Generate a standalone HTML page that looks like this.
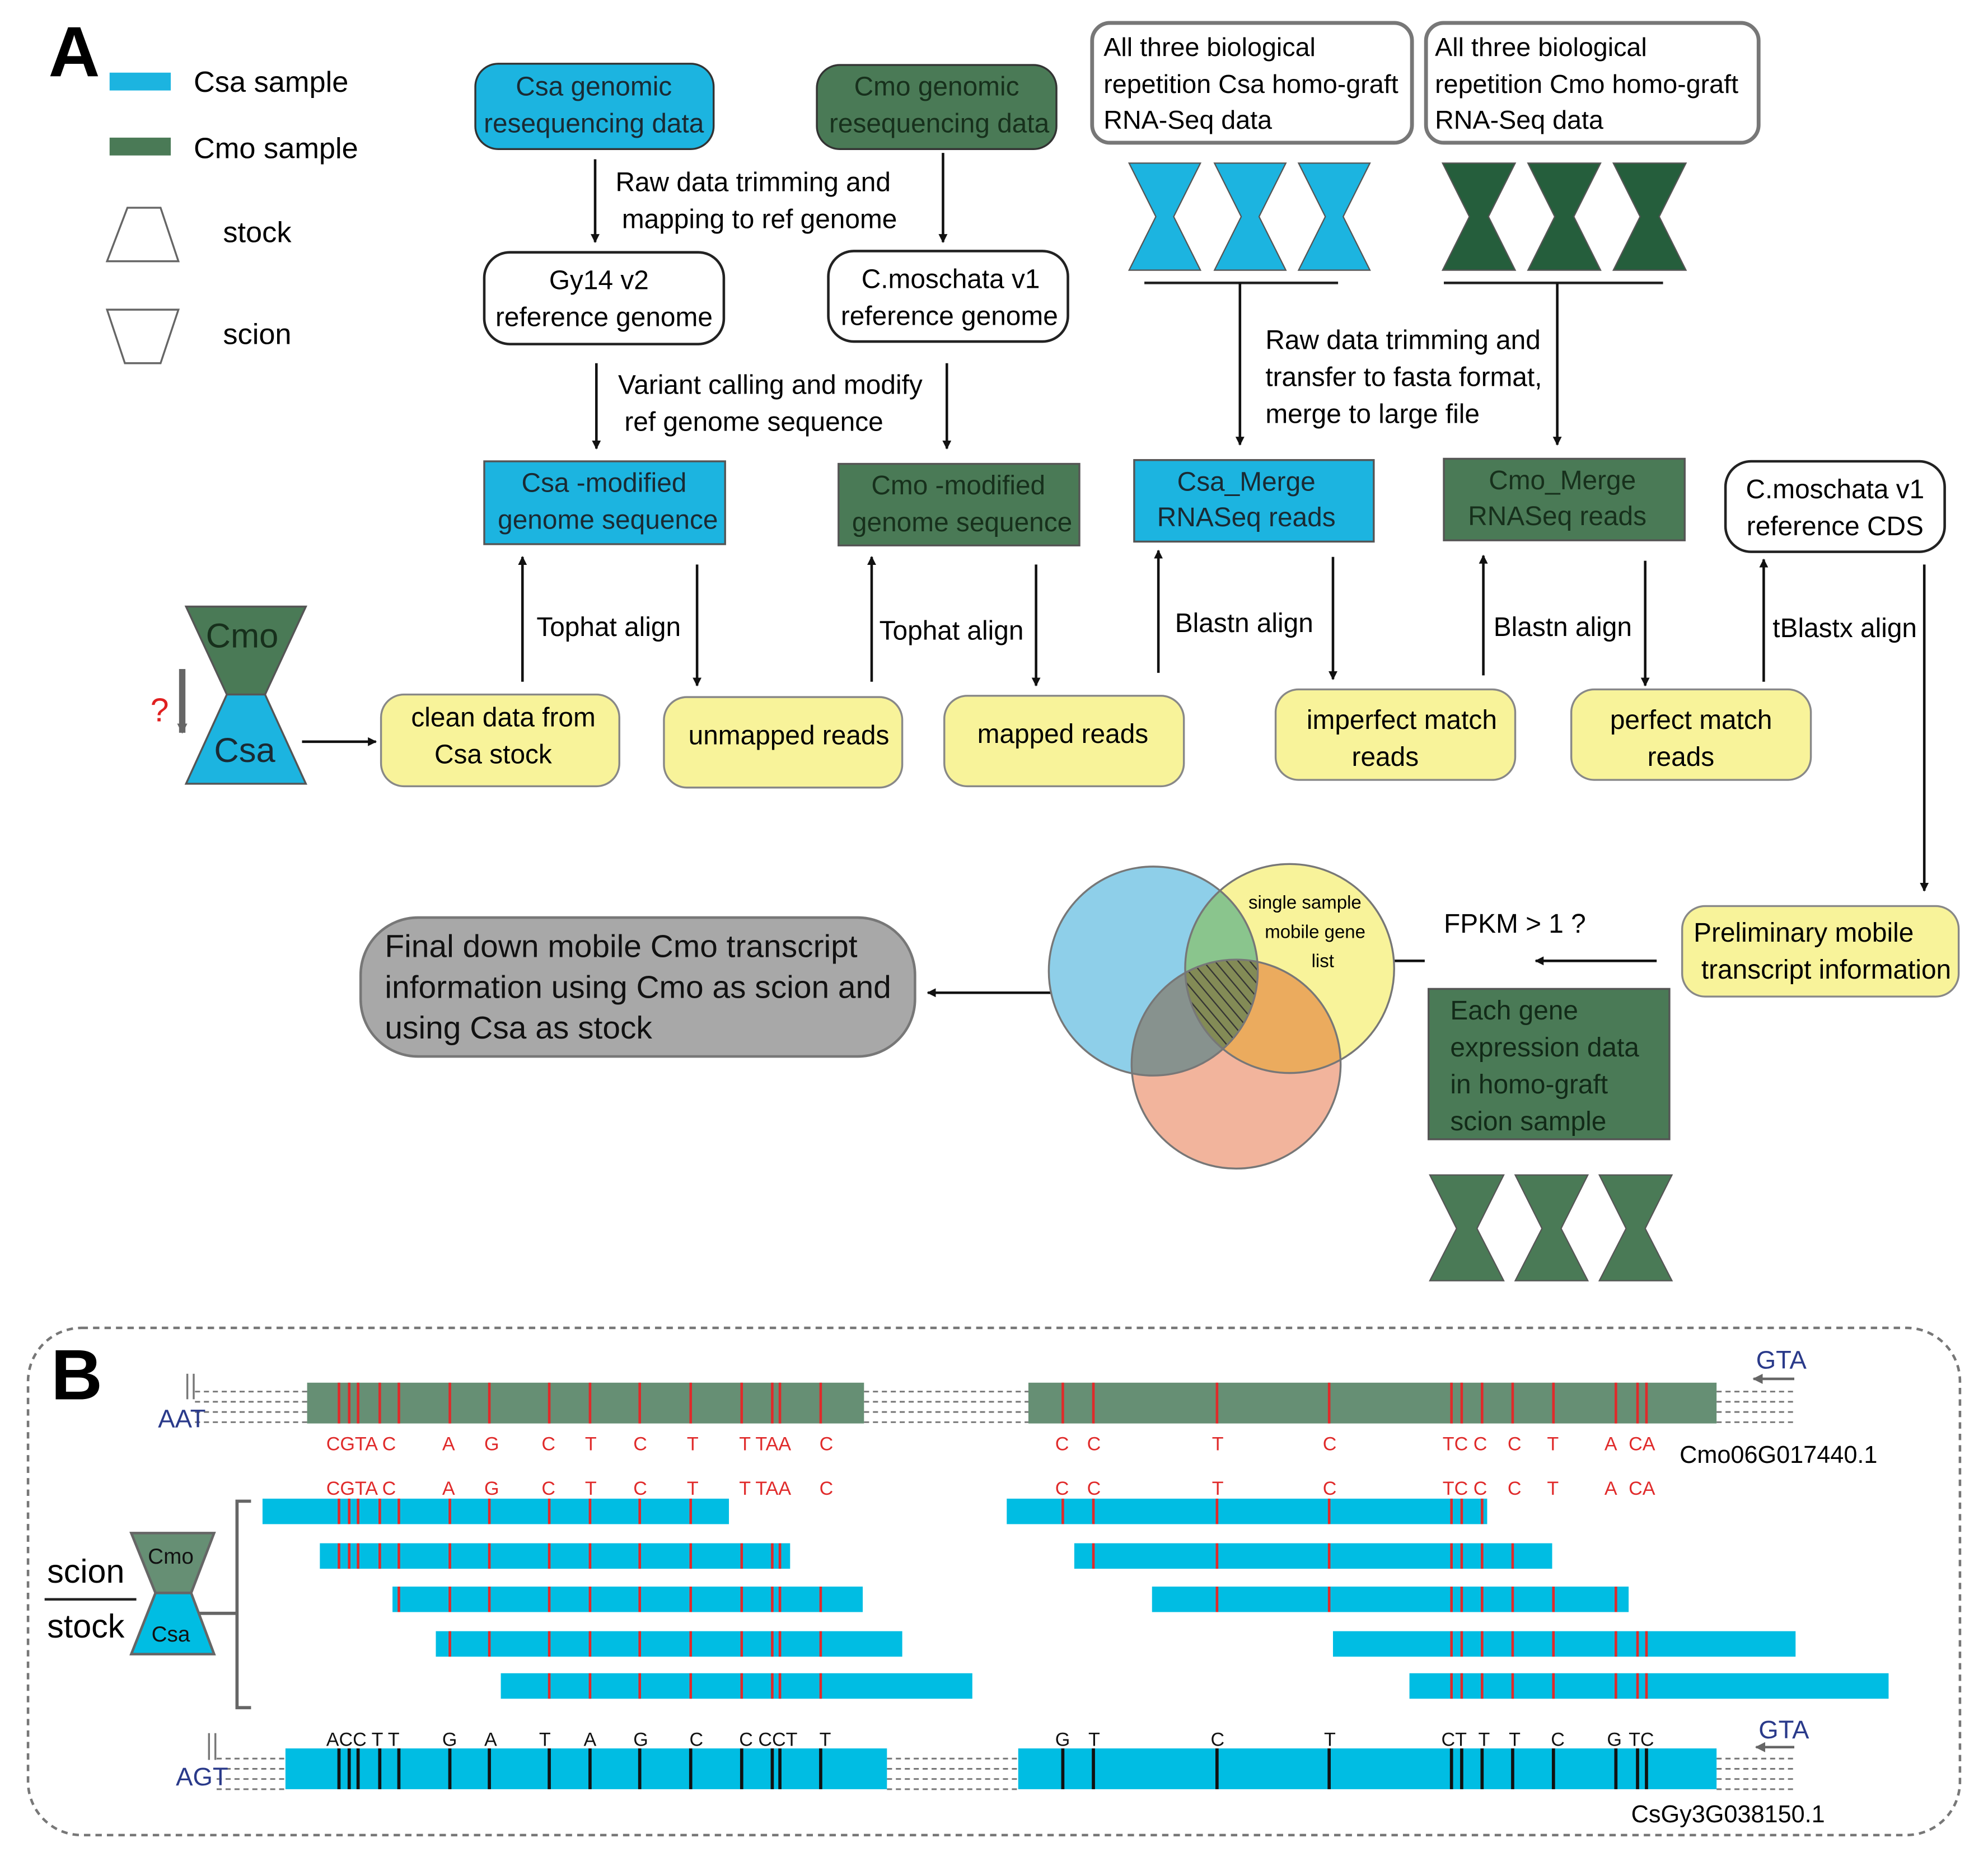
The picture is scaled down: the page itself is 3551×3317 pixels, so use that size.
<!DOCTYPE html>
<html><head><meta charset="utf-8"><style>
html,body{margin:0;padding:0;background:#fff;}
svg{display:block;}
text{font-family:"Liberation Sans",Arial,sans-serif;}
</style></head><body>
<svg width="3551" height="3317" viewBox="0 0 1560 1457.2" xmlns="http://www.w3.org/2000/svg">
<defs>
<marker id="ah" viewBox="0 0 10 10" refX="9" refY="5" markerWidth="7" markerHeight="7" orient="auto-start-reverse" markerUnits="userSpaceOnUse"><path d="M0,0 L10,5 L0,10 z" fill="#111"/></marker>
<marker id="ag" viewBox="0 0 10 10" refX="9" refY="5" markerWidth="8" markerHeight="8" orient="auto" markerUnits="userSpaceOnUse"><path d="M0,0 L10,5 L0,10 z" fill="#666"/></marker>
<pattern id="hatch" patternUnits="userSpaceOnUse" width="7" height="7" patternTransform="rotate(-40)"><rect width="7" height="7" fill="none"/><line x1="0" y1="0" x2="0" y2="7" stroke="#333" stroke-width="2"/></pattern>
<clipPath id="cb"><circle cx="905" cy="762" r="82"/></clipPath>
<clipPath id="cy"><circle cx="1012" cy="760" r="82"/></clipPath>
</defs>

<!-- A legend -->
<text x="38" y="60" font-size="56" font-weight="bold">A</text>
<rect x="86" y="57" width="48" height="14" fill="#1cb4e0"/>
<text x="152" y="72" font-size="23">Csa sample</text>
<rect x="86" y="108" width="48" height="14" fill="#4a7a56"/>
<text x="152" y="124" font-size="23">Cmo sample</text>
<polygon points="100,163 126,163 140,205 84,205" fill="none" stroke="#666" stroke-width="1.5"/>
<text x="175" y="190" font-size="23">stock</text>
<polygon points="84,243 140,243 126,285 98,285" fill="none" stroke="#666" stroke-width="1.5"/>
<text x="175" y="270" font-size="23">scion</text>

<g font-size="21" text-anchor="middle">
<rect x="373" y="50" width="187" height="67" rx="18" fill="#1cb4e0" stroke="#333" stroke-width="1.5"/>
<text x="466" y="75" fill="#1a2a33">Csa genomic</text><text x="466" y="104" fill="#1a2a33">resequencing data</text>
<rect x="641" y="51" width="188" height="66" rx="18" fill="#4a7a56" stroke="#333" stroke-width="1.5"/>
<text x="735" y="75" fill="#17301c">Cmo genomic</text><text x="737" y="104" fill="#17301c">resequencing data</text>

<rect x="380" y="198" width="188" height="72" rx="20" fill="#fff" stroke="#222" stroke-width="2"/>
<text x="470" y="227">Gy14 v2</text><text x="474" y="256">reference genome</text>
<rect x="650" y="197" width="188" height="71" rx="20" fill="#fff" stroke="#222" stroke-width="2"/>
<text x="746" y="226">C.moschata v1</text><text x="745" y="255">reference genome</text>

<rect x="380" y="362" width="189" height="65" fill="#1cb4e0" stroke="#555" stroke-width="1.5"/>
<text x="474" y="386" fill="#1a2a33">Csa -modified</text><text x="477" y="415" fill="#1a2a33">genome sequence</text>
<rect x="658" y="364" width="189" height="64" fill="#4a7a56" stroke="#555" stroke-width="1.5"/>
<text x="752" y="388" fill="#17301c">Cmo -modified</text><text x="755" y="417" fill="#17301c">genome sequence</text>

<rect x="890" y="361" width="188" height="64" fill="#1cb4e0" stroke="#555" stroke-width="1.5"/>
<text x="978" y="385" fill="#1a2a33">Csa_Merge</text><text x="978" y="413" fill="#1a2a33">RNASeq reads</text>
<rect x="1133" y="360" width="189" height="64" fill="#4a7a56" stroke="#555" stroke-width="1.5"/>
<text x="1226" y="384" fill="#17301c">Cmo_Merge</text><text x="1222" y="412" fill="#17301c">RNASeq reads</text>

<rect x="1354" y="362" width="172" height="71" rx="20" fill="#fff" stroke="#222" stroke-width="2"/>
<text x="1440" y="391">C.moschata v1</text><text x="1440" y="420">reference CDS</text>

<!-- yellow -->
<g fill="#f8f39a" stroke="#888" stroke-width="1.5">
<rect x="299" y="545" width="187" height="72" rx="18"/>
<rect x="521" y="547" width="187" height="71" rx="18"/>
<rect x="741" y="546" width="188" height="71" rx="18"/>
<rect x="1001" y="541" width="188" height="71" rx="18"/>
<rect x="1233" y="541" width="188" height="71" rx="18"/>
<rect x="1320" y="711" width="217" height="71" rx="18"/>
</g>
<text x="395" y="570">clean data from</text><text x="387" y="599">Csa stock</text>
<text x="619" y="584">unmapped reads</text>
<text x="834" y="583">mapped reads</text>
<text x="1100" y="572">imperfect match</text><text x="1087" y="601">reads</text>
<text x="1327" y="572">perfect match</text><text x="1319" y="601">reads</text>
</g>
<text x="1329" y="739" font-size="21">Preliminary mobile</text>
<text x="1335" y="768" font-size="21">transcript information</text>

<!-- top right boxes -->
<rect x="857" y="18" width="251" height="94" rx="14" fill="#fff" stroke="#777" stroke-width="3"/>
<g font-size="20.5"><text x="866" y="44">All three biological</text><text x="866" y="73">repetition Csa homo-graft</text><text x="866" y="101">RNA-Seq data</text></g>
<rect x="1119" y="18" width="261" height="94" rx="14" fill="#fff" stroke="#777" stroke-width="3"/>
<g font-size="20.5"><text x="1126" y="44">All three biological</text><text x="1126" y="73">repetition Cmo homo-graft</text><text x="1126" y="101">RNA-Seq data</text></g>

<!-- hourglasses -->
<g stroke="#555" stroke-width="1">
<polygon points="886,128 942,128 921,170 942,212 886,212 907,170" fill="#1cb4e0"/>
<polygon points="953,128 1009,128 988,170 1009,212 953,212 974,170" fill="#1cb4e0"/>
<polygon points="1019,128 1075,128 1054,170 1075,212 1019,212 1040,170" fill="#1cb4e0"/>
<polygon points="1132,128 1189,128 1168,170 1189,212 1132,212 1153,170" fill="#255e3c"/>
<polygon points="1199,128 1256,128 1235,170 1256,212 1199,212 1220,170" fill="#255e3c"/>
<polygon points="1266,128 1323,128 1302,170 1323,212 1266,212 1287,170" fill="#255e3c"/>
<polygon points="1122,922 1180,922 1159,964 1180,1005 1122,1005 1143,964" fill="#4a7a56"/>
<polygon points="1189,922 1246,922 1225,964 1246,1005 1189,1005 1210,964" fill="#4a7a56"/>
<polygon points="1255,922 1312,922 1291,964 1312,1005 1255,1005 1276,964" fill="#4a7a56"/>
</g>
<line x1="898" y1="222" x2="1050" y2="222" stroke="#222" stroke-width="2"/>
<line x1="1133" y1="222" x2="1305" y2="222" stroke="#222" stroke-width="2"/>

<!-- arrows -->
<g stroke="#111" stroke-width="2" marker-end="url(#ah)" fill="none">
<line x1="467" y1="125" x2="467" y2="190"/>
<line x1="740" y1="120" x2="740" y2="190"/>
<line x1="468" y1="285" x2="468" y2="352"/>
<line x1="743" y1="285" x2="743" y2="352"/>
<line x1="973" y1="222" x2="973" y2="349"/>
<line x1="1222" y1="222" x2="1222" y2="349"/>
<line x1="410" y1="535" x2="410" y2="437"/>
<line x1="547" y1="443" x2="547" y2="538"/>
<line x1="684" y1="535" x2="684" y2="437"/>
<line x1="813" y1="443" x2="813" y2="538"/>
<line x1="909" y1="528" x2="909" y2="432"/>
<line x1="1046" y1="437" x2="1046" y2="533"/>
<line x1="1164" y1="530" x2="1164" y2="436"/>
<line x1="1291" y1="440" x2="1291" y2="538"/>
<line x1="1384" y1="535" x2="1384" y2="439"/>
<line x1="1510" y1="443" x2="1510" y2="699"/>
<line x1="237" y1="582" x2="295" y2="582"/>
<line x1="1300" y1="754" x2="1205" y2="754"/>
<line x1="1118" y1="754" x2="1075" y2="754"/>
<line x1="950" y1="779" x2="728" y2="779"/>
</g>
<g font-size="21">
<text x="483" y="150">Raw data trimming and</text><text x="488" y="179">mapping to ref genome</text>
<text x="485" y="309">Variant calling and modify</text><text x="490" y="338">ref genome sequence</text>
<text x="993" y="274">Raw data trimming and</text><text x="993" y="303">transfer to fasta format,</text><text x="993" y="332">merge to  large file</text>
<text x="421" y="499">Tophat align</text>
<text x="690" y="502">Tophat align</text>
<text x="922" y="496">Blastn align</text>
<text x="1172" y="499">Blastn align</text>
<text x="1391" y="500">tBlastx align</text>
<text x="1133" y="732">FPKM &gt; 1 ?</text>
</g>

<!-- big hourglass -->
<polygon points="146,476 240,476 208,545 178,545" fill="#4a7a56" stroke="#555" stroke-width="1.5"/>
<polygon points="178,545 208,545 240,615 146,615" fill="#1cb4e0" stroke="#555" stroke-width="1.5"/>
<text x="190" y="508" font-size="27" text-anchor="middle" fill="#17301c">Cmo</text>
<text x="192" y="598" font-size="27" text-anchor="middle" fill="#1a2a33">Csa</text>
<text x="118" y="566" font-size="26" fill="#e02020">?</text>
<line x1="143" y1="525" x2="143" y2="575" stroke="#666" stroke-width="5" marker-end="url(#ag)"/>

<!-- venn -->
<g style="isolation:isolate">
<circle cx="905" cy="762" r="82" fill="#8ecfe9" style="mix-blend-mode:multiply"/>
<circle cx="970" cy="835" r="82" fill="#f2b49c" style="mix-blend-mode:multiply"/>
<circle cx="1012" cy="760" r="82" fill="#f8f39a" style="mix-blend-mode:multiply"/>
</g>
<g clip-path="url(#cb)"><g clip-path="url(#cy)"><circle cx="970" cy="835" r="82" fill="url(#hatch)"/></g></g>
<g fill="none" stroke="#777" stroke-width="1.5">
<circle cx="905" cy="762" r="82"/><circle cx="970" cy="835" r="82"/><circle cx="1012" cy="760" r="82"/>
</g>
<g font-size="14.5" text-anchor="middle"><text x="1024" y="713">single sample</text><text x="1032" y="736">mobile gene</text><text x="1038" y="759">list</text></g>

<rect x="283" y="720" width="435" height="109" rx="45" fill="#a8a8a8" stroke="#777" stroke-width="2"/>
<g font-size="25" fill="#111"><text x="302" y="751">Final down mobile Cmo transcript</text><text x="302" y="783">information using Cmo as scion and</text><text x="302" y="815">using Csa as stock</text></g>

<rect x="1121" y="776" width="189" height="118" fill="#4a7a56" stroke="#555" stroke-width="1.5"/>
<g font-size="21" fill="#122a18"><text x="1138" y="800">Each gene</text><text x="1138" y="829">expression data</text><text x="1138" y="858">in homo-graft</text><text x="1138" y="887">scion sample</text></g>

<!-- B -->
<rect x="22" y="1042" width="1516" height="398" rx="42" fill="none" stroke="#777" stroke-width="2" stroke-dasharray="5,4"/>
<text x="40" y="1098" font-size="56" font-weight="bold">B</text>

<g stroke="#777" stroke-width="1.3" stroke-dasharray="4,3">
<line x1="153" y1="1092" x2="241" y2="1092"/><line x1="153" y1="1100" x2="241" y2="1100"/><line x1="153" y1="1108" x2="241" y2="1108"/><line x1="153" y1="1116" x2="241" y2="1116"/>
<line x1="678" y1="1092" x2="807" y2="1092"/><line x1="678" y1="1100" x2="807" y2="1100"/><line x1="678" y1="1108" x2="807" y2="1108"/><line x1="678" y1="1116" x2="807" y2="1116"/>
<line x1="1347" y1="1092" x2="1410" y2="1092"/><line x1="1347" y1="1100" x2="1410" y2="1100"/><line x1="1347" y1="1108" x2="1410" y2="1108"/><line x1="1347" y1="1116" x2="1410" y2="1116"/>
<line x1="170" y1="1380" x2="224" y2="1380"/><line x1="170" y1="1388" x2="224" y2="1388"/><line x1="170" y1="1396" x2="224" y2="1396"/><line x1="170" y1="1404" x2="224" y2="1404"/>
<line x1="696" y1="1380" x2="799" y2="1380"/><line x1="696" y1="1388" x2="799" y2="1388"/><line x1="696" y1="1396" x2="799" y2="1396"/><line x1="696" y1="1404" x2="799" y2="1404"/>
<line x1="1347" y1="1380" x2="1410" y2="1380"/><line x1="1347" y1="1388" x2="1410" y2="1388"/><line x1="1347" y1="1396" x2="1410" y2="1396"/><line x1="1347" y1="1404" x2="1410" y2="1404"/>
</g>
<g stroke="#777" stroke-width="1.5"><line x1="147" y1="1078" x2="147" y2="1098"/><line x1="152" y1="1078" x2="152" y2="1098"/><line x1="164" y1="1360" x2="164" y2="1381"/><line x1="169" y1="1360" x2="169" y2="1381"/></g>
<g fill="#2a3a8a" font-size="20"><text x="124" y="1120">AAT</text><text x="1378" y="1074">GTA</text><text x="138" y="1401">AGT</text><text x="1380" y="1364">GTA</text></g>
<g stroke="#666" stroke-width="2" marker-end="url(#ag)"><line x1="1408" y1="1082" x2="1376" y2="1082"/><line x1="1408" y1="1371" x2="1378" y2="1371"/></g>

<rect x="241" y="1085" width="437" height="32" fill="#668f74"/>
<rect x="807" y="1085" width="540" height="32" fill="#668f74"/>
<g fill="#00bde3">
<rect x="206" y="1176" width="366" height="20"/><rect x="251" y="1211" width="369" height="20"/><rect x="308" y="1245" width="369" height="20"/><rect x="342" y="1280" width="366" height="20"/><rect x="393" y="1313" width="370" height="20"/>
<rect x="790" y="1176" width="377" height="20"/><rect x="843" y="1211" width="375" height="20"/><rect x="904" y="1245" width="374" height="20"/><rect x="1046" y="1280" width="363" height="20"/><rect x="1106" y="1313" width="376" height="20"/>
<rect x="224" y="1372" width="472" height="32"/><rect x="799" y="1372" width="548" height="32"/>
</g>

<!-- red lines top -->
<g stroke="#e02a2a" stroke-width="2">
<path d="M266 1085V1117M274 1085V1117M281 1085V1117M298 1085V1117M313 1085V1117M353 1085V1117M384 1085V1117M431 1085V1117M463 1085V1117M502 1085V1117M542 1085V1117M582 1085V1117M606 1085V1117M612 1085V1117M644 1085V1117"/>
<path d="M834 1085V1117M858 1085V1117M955 1085V1117M1043 1085V1117M1139 1085V1117M1147 1085V1117M1163 1085V1117M1187 1085V1117M1219 1085V1117M1268 1085V1117M1285 1085V1117M1292 1085V1117"/>
<!-- row1 -->
<path d="M266 1176v20M274 1176v20M281 1176v20M298 1176v20M313 1176v20M353 1176v20M384 1176v20M431 1176v20M463 1176v20M502 1176v20M542 1176v20"/>
<path d="M834 1176v20M858 1176v20M955 1176v20M1043 1176v20M1139 1176v20M1147 1176v20M1163 1176v20"/>
<!-- row2 -->
<path d="M266 1211v20M274 1211v20M281 1211v20M298 1211v20M313 1211v20M353 1211v20M384 1211v20M431 1211v20M463 1211v20M502 1211v20M542 1211v20M582 1211v20M606 1211v20M612 1211v20"/>
<path d="M858 1211v20M955 1211v20M1043 1211v20M1139 1211v20M1147 1211v20M1163 1211v20M1187 1211v20"/>
<!-- row3 -->
<path d="M313 1245v20M353 1245v20M384 1245v20M431 1245v20M463 1245v20M502 1245v20M542 1245v20M582 1245v20M606 1245v20M612 1245v20M644 1245v20"/>
<path d="M955 1245v20M1043 1245v20M1139 1245v20M1147 1245v20M1163 1245v20M1187 1245v20M1219 1245v20M1268 1245v20"/>
<!-- row4 -->
<path d="M353 1280v20M384 1280v20M431 1280v20M463 1280v20M502 1280v20M542 1280v20M582 1280v20M606 1280v20M612 1280v20M644 1280v20"/>
<path d="M1139 1280v20M1147 1280v20M1163 1280v20M1187 1280v20M1219 1280v20M1268 1280v20M1285 1280v20M1292 1280v20"/>
<!-- row5 -->
<path d="M431 1313v20M463 1313v20M502 1313v20M542 1313v20M582 1313v20M606 1313v20M612 1313v20M644 1313v20"/>
<path d="M1139 1313v20M1147 1313v20M1163 1313v20M1187 1313v20M1219 1313v20M1268 1313v20M1285 1313v20M1292 1313v20"/>
</g>
<g stroke="#111" stroke-width="2.5">
<path d="M266 1372V1404M274 1372V1404M281 1372V1404M298 1372V1404M313 1372V1404M353 1372V1404M384 1372V1404M431 1372V1404M463 1372V1404M502 1372V1404M542 1372V1404M582 1372V1404M606 1372V1404M612 1372V1404M644 1372V1404"/>
<path d="M834 1372V1404M858 1372V1404M955 1372V1404M1043 1372V1404M1139 1372V1404M1147 1372V1404M1163 1372V1404M1187 1372V1404M1219 1372V1404M1268 1372V1404M1285 1372V1404M1292 1372V1404"/>
</g>

<g font-size="15" fill="#e02a2a">
<g id="redlab">
<text x="256" y="1138">CGTA C</text><text x="347" y="1138">A</text><text x="380" y="1138">G</text><text x="425" y="1138">C</text><text x="459" y="1138">T</text><text x="497" y="1138">C</text><text x="539" y="1138">T</text><text x="580" y="1138">T TAA</text><text x="643" y="1138">C</text>
<text x="828" y="1138">C</text><text x="853" y="1138">C</text><text x="951" y="1138">T</text><text x="1038" y="1138">C</text><text x="1132" y="1138">TC C</text><text x="1183" y="1138">C</text><text x="1214" y="1138">T</text><text x="1259" y="1138">A</text><text x="1278" y="1138">CA</text>
</g>
<use href="#redlab" y="35"/>
</g>
<g font-size="15" fill="#111">
<text x="256" y="1370">ACC T T</text><text x="347" y="1370">G</text><text x="380" y="1370">A</text><text x="423" y="1370">T</text><text x="458" y="1370">A</text><text x="497" y="1370">G</text><text x="541" y="1370">C</text><text x="580" y="1370">C CCT</text><text x="643" y="1370">T</text>
<text x="828" y="1370">G</text><text x="854" y="1370">T</text><text x="950" y="1370">C</text><text x="1039" y="1370">T</text><text x="1131" y="1370">CT</text><text x="1160" y="1370">T</text><text x="1184" y="1370">T</text><text x="1217" y="1370">C</text><text x="1261" y="1370">G</text><text x="1278" y="1370">TC</text>
</g>
<text x="1318" y="1148" font-size="19">Cmo06G017440.1</text>
<text x="1280" y="1430" font-size="19">CsGy3G038150.1</text>

<!-- bracket + small hourglass -->
<path d="M197 1178H186V1340H197" fill="none" stroke="#666" stroke-width="2.5"/>
<line x1="150" y1="1266" x2="186" y2="1266" stroke="#666" stroke-width="2.5"/>
<polygon points="103,1203 168,1203 150,1250 122,1250" fill="#668f74" stroke="#666" stroke-width="2"/>
<polygon points="122,1250 150,1250 168,1298 103,1298" fill="#00bde3" stroke="#666" stroke-width="2"/>
<text x="134" y="1227" font-size="17" text-anchor="middle" fill="#111">Cmo</text>
<text x="134" y="1288" font-size="17" text-anchor="middle" fill="#111">Csa</text>
<text x="37" y="1242" font-size="26">scion</text>
<line x1="35" y1="1255" x2="107" y2="1255" stroke="#222" stroke-width="2"/>
<text x="37" y="1285" font-size="26">stock</text>
</svg>
</body></html>
